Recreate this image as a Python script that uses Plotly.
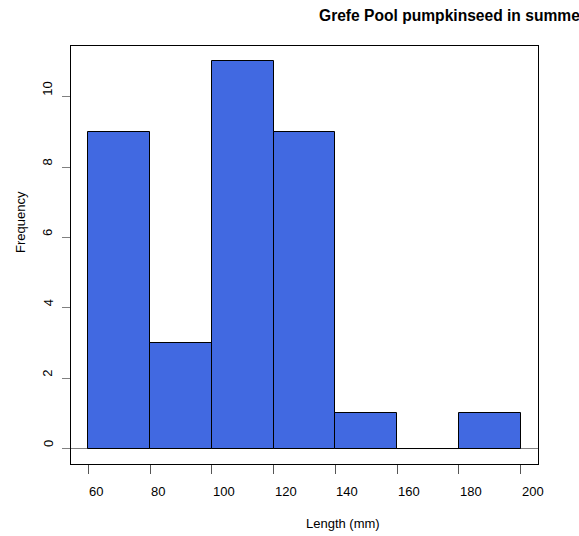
import plotly.graph_objects as go

# Histogram of pumpkinseed lengths, 20 mm bins
bin_edges = [60, 80, 100, 120, 140, 160, 180, 200]
counts = [9, 3, 11, 9, 1, 0, 1]
x_ticks = [60, 80, 100, 120, 140, 160, 180, 200]
y_ticks = [0, 2, 4, 6, 8, 10]

mids = [(a + b) / 2 for a, b in zip(bin_edges[:-1], bin_edges[1:])]
widths = [b - a for a, b in zip(bin_edges[:-1], bin_edges[1:])]

FONT = "Liberation Sans, Arial, sans-serif"
W, H = 579, 536
ML, MR, MT, MB = 71, 41, 46, 72
PW, PH = W - ML - MR, H - MT - MB


def px_x(p):
    return (p - ML) / PW


def px_y(p):
    return (H - MB - p) / PH


fig = go.Figure()
fig.add_trace(go.Bar(
    x=mids, y=counts, width=widths,
    marker=dict(color="#4169E1", line=dict(color="black", width=1)),
    hoverinfo="x+y",
))

# empty bins still get their outline along the baseline
for a, b, c in zip(bin_edges[:-1], bin_edges[1:], counts):
    if c == 0:
        fig.add_trace(go.Scatter(x=[a, b], y=[c, c], mode="lines",
                                 line=dict(color="black", width=1),
                                 hoverinfo="skip"))

xr = [bin_edges[0] - 0.04 * (bin_edges[-1] - bin_edges[0]),
      bin_edges[-1] + 0.04 * (bin_edges[-1] - bin_edges[0])]
ymax = max(counts)
yr = [-0.04 * ymax, ymax * 1.04]

annotations = []
for v in x_ticks:
    annotations.append(dict(
        text=str(v), x=v, xref="x", y=px_y(491), yref="paper",
        xanchor="left", yanchor="middle", showarrow=False, borderpad=0,
        font=dict(size=13, color="black", family=FONT)))
for v in y_ticks:
    annotations.append(dict(
        text=str(v), x=px_x(48), xref="paper", y=v, yref="y", textangle=-90,
        xanchor="center", yanchor="bottom", showarrow=False, borderpad=0,
        font=dict(size=13, color="black", family=FONT)))

annotations += [
    dict(text="<b>Grefe Pool pumpkinseed in summer</b>", xref="paper", yref="paper",
         x=px_x(318), y=px_y(16), xanchor="left", yanchor="middle",
         showarrow=False, borderpad=0,
         font=dict(size=15.6, color="black", family=FONT)),
    dict(text="Length (mm)", xref="paper", yref="paper",
         x=px_x(305), y=px_y(523), xanchor="left", yanchor="middle",
         showarrow=False, borderpad=0,
         font=dict(size=13, color="black", family=FONT)),
    dict(text="Frequency", xref="paper", yref="paper", textangle=-90,
         x=px_x(20), y=px_y(254), xanchor="center", yanchor="bottom",
         showarrow=False, borderpad=0,
         font=dict(size=13, color="black", family=FONT)),
]

fig.update_layout(
    width=W, height=H,
    margin=dict(l=ML, r=MR, t=MT, b=MB),
    paper_bgcolor="white", plot_bgcolor="white",
    showlegend=False,
    bargap=0,
    font=dict(family=FONT, size=13, color="black"),
    xaxis=dict(
        range=xr, tickvals=x_ticks, showticklabels=False,
        showgrid=False, zeroline=False,
        showline=True, mirror=True, linecolor="black", linewidth=1,
        ticks="outside", ticklen=9, tickcolor="#555555", tickwidth=1,
    ),
    yaxis=dict(
        range=yr, tickvals=y_ticks, showticklabels=False,
        showgrid=False, zeroline=True, zerolinecolor="#808080", zerolinewidth=1,
        showline=True, mirror=True, linecolor="black", linewidth=1,
        ticks="outside", ticklen=8, tickcolor="#808080", tickwidth=1,
    ),
    annotations=annotations,
)

fig.write_html("out.html")
